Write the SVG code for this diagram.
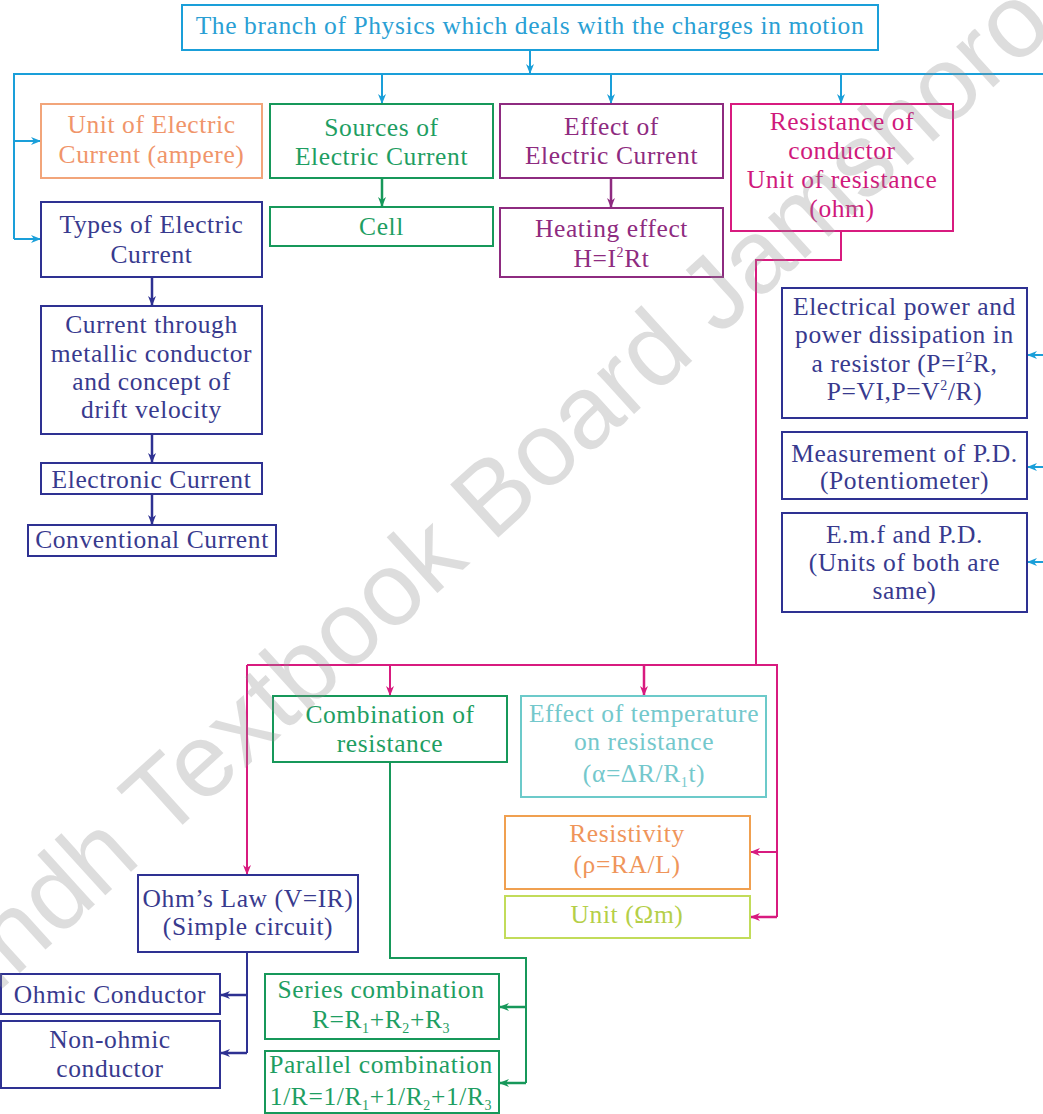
<svg xmlns="http://www.w3.org/2000/svg" width="1043" height="1114" viewBox="0 0 1043 1114">
<style>
  text { font-family: "Liberation Serif", "Times New Roman", serif; font-size: 25.5px; letter-spacing: 0.6px; text-anchor: middle; }
  rect { fill: none; stroke-width: 2; }
  .c line, .c polyline { fill: none; stroke-width: 2; }
  .blue { stroke: #1a9fd9; } .tblue { fill: #2a9fd4; }
  .orange { stroke: #f2a57a; } .torange { fill: #f0956a; }
  .green { stroke: #17985a; } .tgreen { fill: #1e9e62; }
  .purple { stroke: #8e2b80; } .tpurple { fill: #8e2b80; }
  .mag { stroke: #d81b7f; } .tmag { fill: #d0197c; }
  .navy { stroke: #2e3192; } .tnavy { fill: #383a8e; }
  .cyan { stroke: #6ccaca; } .tcyan { fill: #74c8cc; }
  .orange2 { stroke: #f0a050; } .torange2 { fill: #ef955a; }
  .ygreen { stroke: #c2dc5a; } .tygreen { fill: #b5cf48; }
  .sub { font-size: 14px; }
  .wm { font-family: "Liberation Sans", Arial, sans-serif; font-size: 104px; letter-spacing: 0; text-anchor: start; fill: #909090; opacity: 0.3; }
</style>
<defs>
  <marker id="ab" viewBox="0 0 10 10" refX="10" refY="5" markerWidth="10" markerHeight="10" markerUnits="userSpaceOnUse" orient="auto"><path d="M0,1 L10,5 L0,9 L3,5 z" fill="#1a9fd9"/></marker>
  <marker id="ag" viewBox="0 0 10 10" refX="10" refY="5" markerWidth="10" markerHeight="10" markerUnits="userSpaceOnUse" orient="auto"><path d="M0,1 L10,5 L0,9 L3,5 z" fill="#17985a"/></marker>
  <marker id="ap" viewBox="0 0 10 10" refX="10" refY="5" markerWidth="10" markerHeight="10" markerUnits="userSpaceOnUse" orient="auto"><path d="M0,1 L10,5 L0,9 L3,5 z" fill="#8e2b80"/></marker>
  <marker id="am" viewBox="0 0 10 10" refX="10" refY="5" markerWidth="10" markerHeight="10" markerUnits="userSpaceOnUse" orient="auto"><path d="M0,1 L10,5 L0,9 L3,5 z" fill="#d81b7f"/></marker>
  <marker id="an" viewBox="0 0 10 10" refX="10" refY="5" markerWidth="10" markerHeight="10" markerUnits="userSpaceOnUse" orient="auto"><path d="M0,1 L10,5 L0,9 L3,5 z" fill="#2e3192"/></marker>
</defs>
<rect x="0" y="0" width="1043" height="1114" style="fill:#ffffff;stroke:none"/>

<g id="connectors" class="c">
  <line class="blue" x1="530" y1="50" x2="530" y2="74" marker-end="url(#ab)"/>
  <polyline class="blue" points="1043,74 14,74 14,239"/>
  <line class="blue" x1="14" y1="141" x2="41" y2="141" marker-end="url(#ab)"/>
  <line class="blue" x1="14" y1="239" x2="41" y2="239" marker-end="url(#ab)"/>
  <line class="blue" x1="382" y1="74" x2="382" y2="104" marker-end="url(#ab)"/>
  <line class="blue" x1="611" y1="74" x2="611" y2="104" marker-end="url(#ab)"/>
  <line class="blue" x1="841" y1="74" x2="841" y2="104" marker-end="url(#ab)"/>
  <line class="blue" x1="1043" y1="355" x2="1027" y2="355" marker-end="url(#ab)"/>
  <line class="blue" x1="1043" y1="467" x2="1027" y2="467" marker-end="url(#ab)"/>
  <line class="blue" x1="1043" y1="562" x2="1027" y2="562" marker-end="url(#ab)"/>
  <line class="green" x1="382" y1="178" x2="382" y2="207" marker-end="url(#ag)" style="stroke-width:2.5"/>
  <line class="purple" x1="611" y1="178" x2="611" y2="208" marker-end="url(#ap)" style="stroke-width:2.5"/>
  <line class="navy" x1="152" y1="277" x2="152" y2="306" marker-end="url(#an)" style="stroke-width:2.5"/>
  <line class="navy" x1="152" y1="434" x2="152" y2="463" marker-end="url(#an)" style="stroke-width:2.5"/>
  <line class="navy" x1="152" y1="494" x2="152" y2="525" marker-end="url(#an)" style="stroke-width:2.5"/>
  <polyline class="mag" points="841,231 841,260 756,260 756,665"/>
  <polyline class="mag" points="247,665 777,665 777,917"/>
  <line class="mag" x1="247" y1="665" x2="247" y2="875" marker-end="url(#am)"/>
  <line class="mag" x1="390" y1="665" x2="390" y2="696" marker-end="url(#am)"/>
  <line class="mag" x1="644" y1="665" x2="644" y2="696" marker-end="url(#am)" style="stroke-width:2.5"/>
  <line class="mag" x1="777" y1="852" x2="750" y2="852" marker-end="url(#am)"/>
  <line class="mag" x1="777" y1="917" x2="750" y2="917" marker-end="url(#am)" style="stroke-width:2.5"/>
  <polyline class="navy" points="247,952 247,1053"/>
  <line class="navy" x1="247" y1="995" x2="220" y2="995" marker-end="url(#an)" style="stroke-width:2.5"/>
  <line class="navy" x1="247" y1="1053" x2="220" y2="1053" marker-end="url(#an)" style="stroke-width:2.5"/>
  <polyline class="green" points="390,762 390,958 526,958 526,1083"/>
  <line class="green" x1="526" y1="1007" x2="499" y2="1007" marker-end="url(#ag)" style="stroke-width:2.5"/>
  <line class="green" x1="526" y1="1083" x2="499" y2="1083" marker-end="url(#ag)" style="stroke-width:2.5"/>
</g>

<g id="n_title"><rect class="blue" x="182" y="5" width="696" height="45"/><text class="tblue" x="530" y="34">The branch of Physics which deals with the charges in motion</text></g>
<g id="n_unit"><rect class="orange" x="41" y="104" width="221" height="74"/><text class="torange" x="151.5" y="133">Unit of Electric</text><text class="torange" x="151.5" y="163">Current (ampere)</text></g>
<g id="n_sources"><rect class="green" x="270" y="104" width="223" height="74"/><text class="tgreen" x="381.5" y="136">Sources of</text><text class="tgreen" x="381.5" y="165">Electric Current</text></g>
<g id="n_effect"><rect class="purple" x="500" y="104" width="223" height="74"/><text class="tpurple" x="611.5" y="135">Effect of</text><text class="tpurple" x="611.5" y="164">Electric Current</text></g>
<g id="n_resistance"><rect class="mag" x="731" y="104" width="222" height="127"/><text class="tmag" x="842" y="130">Resistance of</text><text class="tmag" x="842" y="159">conductor</text><text class="tmag" x="842" y="188">Unit of resistance</text><text class="tmag" x="842" y="217">(ohm)</text></g>
<g id="n_types"><rect class="navy" x="41" y="202" width="221" height="75"/><text class="tnavy" x="151.5" y="233">Types of Electric</text><text class="tnavy" x="151.5" y="263">Current</text></g>
<g id="n_cell"><rect class="green" x="270" y="207" width="223" height="39"/><text class="tgreen" x="381.5" y="235">Cell</text></g>
<g id="n_heating"><rect class="purple" x="500" y="208" width="223" height="69"/><text class="tpurple" x="611.5" y="237">Heating effect</text><text class="tpurple" x="611.5" y="267">H=I<tspan class="sub" dy="-10">2</tspan><tspan dy="10">Rt</tspan></text></g>
<g id="n_current"><rect class="navy" x="41" y="306" width="221" height="128"/><text class="tnavy" x="151.5" y="333">Current through</text><text class="tnavy" x="151.5" y="362">metallic conductor</text><text class="tnavy" x="151.5" y="390">and concept of</text><text class="tnavy" x="151.5" y="418">drift velocity</text></g>
<g id="n_electronic"><rect class="navy" x="41" y="463" width="221" height="31"/><text class="tnavy" x="151.5" y="488">Electronic Current</text></g>
<g id="n_conventional"><rect class="navy" x="28" y="525" width="248" height="31"/><text class="tnavy" x="152" y="548">Conventional Current</text></g>
<g id="n_power"><rect class="navy" x="782" y="288" width="245" height="130"/><text class="tnavy" x="904.5" y="315">Electrical power and</text><text class="tnavy" x="904.5" y="343">power dissipation in</text><text class="tnavy" x="904.5" y="372">a resistor (P=I<tspan class="sub" dy="-10">2</tspan><tspan dy="10">R,</tspan></text><text class="tnavy" x="904.5" y="400">P=VI,P=V<tspan class="sub" dy="-10">2</tspan><tspan dy="10">/R)</tspan></text></g>
<g id="n_measure"><rect class="navy" x="782" y="432" width="245" height="67"/><text class="tnavy" x="904.5" y="462">Measurement of P.D.</text><text class="tnavy" x="904.5" y="489">(Potentiometer)</text></g>
<g id="n_emf"><rect class="navy" x="782" y="513" width="245" height="99"/><text class="tnavy" x="904.5" y="543">E.m.f and P.D.</text><text class="tnavy" x="904.5" y="571">(Units of both are</text><text class="tnavy" x="904.5" y="599">same)</text></g>
<g id="n_combination"><rect class="green" x="273" y="696" width="234" height="66"/><text class="tgreen" x="390" y="723">Combination of</text><text class="tgreen" x="390" y="752">resistance</text></g>
<g id="n_temperature"><rect class="cyan" x="521" y="696" width="245" height="101"/><text class="tcyan" x="644" y="722">Effect of temperature</text><text class="tcyan" x="644" y="750">on resistance</text><text class="tcyan" x="644" y="782">(α=ΔR/R<tspan class="sub" dy="5">1</tspan><tspan dy="-5">t)</tspan></text></g>
<g id="n_resistivity"><rect class="orange2" x="505" y="816" width="245" height="73"/><text class="torange2" x="627" y="842">Resistivity</text><text class="torange2" x="627" y="873">(ρ=RA/L)</text></g>
<g id="n_unitohm"><rect class="ygreen" x="505" y="896" width="245" height="42"/><text class="tygreen" x="627" y="923">Unit (Ωm)</text></g>
<g id="n_ohm"><rect class="navy" x="138" y="875" width="220" height="77"/><text class="tnavy" x="248" y="907">Ohm’s Law (V=IR)</text><text class="tnavy" x="248" y="935">(Simple circuit)</text></g>
<g id="n_ohmic"><rect class="navy" x="1" y="974" width="219" height="40"/><text class="tnavy" x="110" y="1003">Ohmic Conductor</text></g>
<g id="n_nonohmic"><rect class="navy" x="1" y="1021" width="219" height="67"/><text class="tnavy" x="110" y="1048">Non-ohmic</text><text class="tnavy" x="110" y="1077">conductor</text></g>
<g id="n_series"><rect class="green" x="265" y="974" width="234" height="65"/><text class="tgreen" x="381" y="998">Series combination</text><text class="tgreen" x="381" y="1028">R=R<tspan class="sub" dy="5">1</tspan><tspan dy="-5">+R</tspan><tspan class="sub" dy="5">2</tspan><tspan dy="-5">+R</tspan><tspan class="sub" dy="5">3</tspan></text></g>
<g id="n_parallel"><rect class="green" x="265" y="1051" width="234" height="62"/><text class="tgreen" x="381" y="1073">Parallel combination</text><text class="tgreen" x="381" y="1105">1/R=1/R<tspan class="sub" dy="5">1</tspan><tspan dy="-5">+1/R</tspan><tspan class="sub" dy="5">2</tspan><tspan dy="-5">+1/R</tspan><tspan class="sub" dy="5">3</tspan></text></g>

<g id="watermark"><text class="wm" transform="translate(-54,1040) rotate(-42.3)">Sindh Textbook Board Jamshoro</text></g>
</svg>
